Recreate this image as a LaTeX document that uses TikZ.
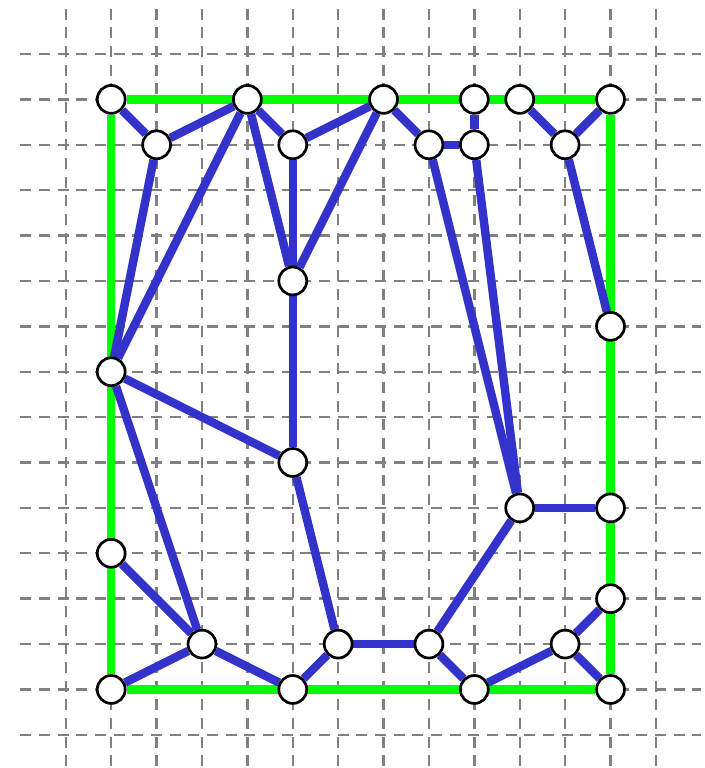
\documentclass[tikz,border=0pt]{standalone}
\pgfdeclarelayer{grid}
\pgfdeclarelayer{lines}
\pgfsetlayers{grid,lines,main}
\definecolor{edgeblue}{RGB}{51,51,204}
\definecolor{framegreen}{RGB}{0,255,0}
\tikzset{
  pt/.style={circle,draw=black,fill=white,line width=1.7pt,minimum size=17.5pt,inner sep=0pt},
  blueline/.style={draw=edgeblue,line width=5.3pt},
  greenline/.style={draw=framegreen,line width=5.2pt},
  gridline/.style={draw=gray,line width=1.5pt,dash pattern=on 6.9pt off 4.8pt}
}
\begin{document}
\begin{tikzpicture}[x=1cm, y=1cm]
  \useasboundingbox (-1.45,-0.73) rectangle (14.08,16.19);
  % dashed grid
  \begin{pgfonlayer}{grid}
    \foreach \i in {0,...,13}{
      \draw[gridline] (\i,16) -- (\i,-1);
    }
    \foreach \j in {0,...,15}{
      \draw[gridline] (-1,\j) -- (14,\j);
    }
  \end{pgfonlayer}
  % vertices
  \foreach \n/\x/\y in {a/1/14, b/2/13, c/4/14, d/5/13, e/7/14, f/8/13,
      g/9/14, h/9/13, i/10/14, j/11/13, k/12/14, l/5/10, m/12/9, n/1/8,
      o/5/6, p/10/5, q/12/5, r/1/4, s/12/3, t/3/2, u/6/2, v/8/2, w/11/2,
      x/1/1, y/5/1, z/9/1, zz/12/1}{
    \node[pt] (\n) at (\x,\y) {};
  }
  \begin{pgfonlayer}{lines}
    % outer frame
    \draw[greenline] (a) -- (k) -- (zz) -- (x) -- (a);
    % inner edges
    \foreach \s/\t in {a/b, b/c, b/n, c/n, c/d, c/l, d/e, d/l, e/l, e/f,
        f/h, g/h, h/p, f/p, i/j, j/k, j/m, l/o, n/o, n/t, r/t, t/x, t/y,
        o/u, u/v, y/u, v/p, p/q, v/z, z/w, w/s, w/zz}{
      \draw[blueline] (\s) -- (\t);
    }
  \end{pgfonlayer}
\end{tikzpicture}
\end{document}
